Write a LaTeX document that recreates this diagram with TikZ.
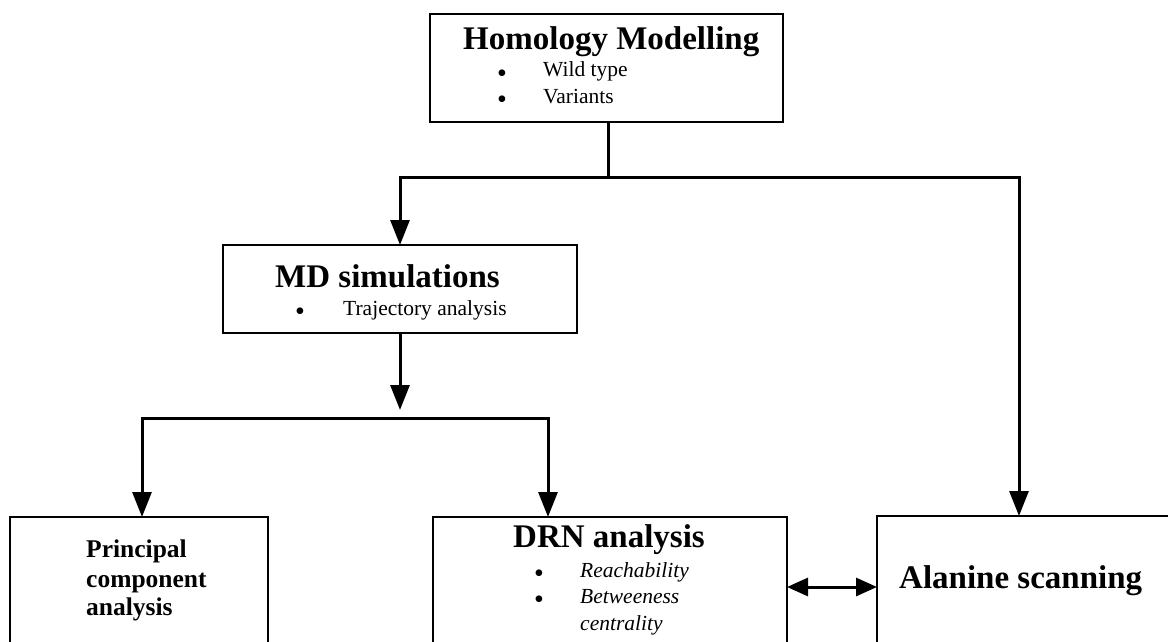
\documentclass[tikz,border=0pt]{standalone}
\usepackage{fontspec}
\setmainfont{Liberation Serif}
\usetikzlibrary{arrows.meta}
\begin{document}
\begin{tikzpicture}[x=1pt,y=-1pt,
  box/.style={draw=black,line width=2pt,rectangle,inner sep=0pt,outer sep=0pt},
  conn/.style={draw=black,line width=3pt},
  arr/.style={conn,-{Triangle[length=25pt,width=19pt]}},
  dbl/.style={conn,{Triangle[length=21pt,width=18pt]}-{Triangle[length=21pt,width=18pt]}},
  ttl/.style={anchor=base west,inner sep=0pt,font=\fontsize{33}{38}\selectfont\bfseries},
  pcat/.style={anchor=base west,inner sep=0pt,font=\fontsize{25.5}{29}\selectfont\bfseries},
  itm/.style={anchor=base west,inner sep=0pt,font=\fontsize{21.5}{25}\selectfont},
  bul/.style={anchor=base,inner sep=0pt,font=\fontsize{28}{25}\selectfont}]
\useasboundingbox (0,0) rectangle (1168,642);
\clip (0,0) rectangle (1168,642);
\fill[white] (0,0) rectangle (1168,642);
% boxes
\node[box,minimum width=353pt,minimum height=108pt] (hom) at (606.5,68) {};
\node[box,minimum width=354pt,minimum height=88pt] (md) at (400,289) {};
\node[box,minimum width=258pt,minimum height=160pt] (pca) at (139,597) {};
\node[box,minimum width=354pt,minimum height=160pt] (drn) at (610,597) {};
\node[box,minimum width=330pt,minimum height=160pt] (ala) at (1042,596) {};
% texts
\node[ttl] (homt) at (463,50) {Homology Modelling};
\node[bul] (homb1) at (502,82) {•};
\node[bul] (homb2) at (502,108) {•};
\node[itm] (homi1) at (543,77) {Wild type};
\node[itm] (homi2) at (543,103) {Variants};
\node[ttl] (mdt) at (275,287) {MD simulations};
\node[bul] (mdb1) at (300,320) {•};
\node[itm] (mdi1) at (343,315) {Trajectory analysis};
\node[pcat] (pca1) at (86,557) {Principal};
\node[pcat] (pca2) at (86,587) {component};
\node[pcat] (pca3) at (86,615) {analysis};
\node[ttl] (drnt) at (513,547) {DRN analysis};
\node[bul] (drnb1) at (539,582) {•};
\node[bul] (drnb2) at (539,608) {•};
\node[itm,font=\fontsize{21.5}{25}\selectfont\itshape] (drni1) at (580,577) {Reachability};
\node[itm,font=\fontsize{21.5}{25}\selectfont\itshape] (drni2) at (580,603) {Betweeness};
\node[itm,font=\fontsize{21.5}{25}\selectfont\itshape] (drni3) at (580,630) {centrality};
\node[ttl] (alat) at (899,588) {Alanine scanning};
% connector coordinates
\coordinate (j1) at (608,177);
\coordinate (jl) at (400,177);
\coordinate (jr) at (1019,177);
\coordinate (alatop) at (1019,516);
\coordinate (mdend) at (400,410);
\coordinate (bl) at (142,418);
\coordinate (br) at (548,418);
\coordinate (pcatop) at (142,517);
\coordinate (drntop) at (548,517);
\coordinate (dl) at (787,587);
\coordinate (dr) at (877,587);
% connectors
\draw[conn] (hom.south -| j1) -- (j1);
\draw[conn,line cap=rect] (jl) -- (jr);
\draw[arr] (jl) -- (md.north);
\draw[arr] (jr) -- (alatop);
\draw[arr] (md.south) -- (mdend);
\draw[conn,line cap=rect] (bl) -- (br);
\draw[arr] (bl) -- (pcatop);
\draw[arr] (br) -- (drntop);
\draw[dbl] (dl) -- (dr);
\end{tikzpicture}
\end{document}
